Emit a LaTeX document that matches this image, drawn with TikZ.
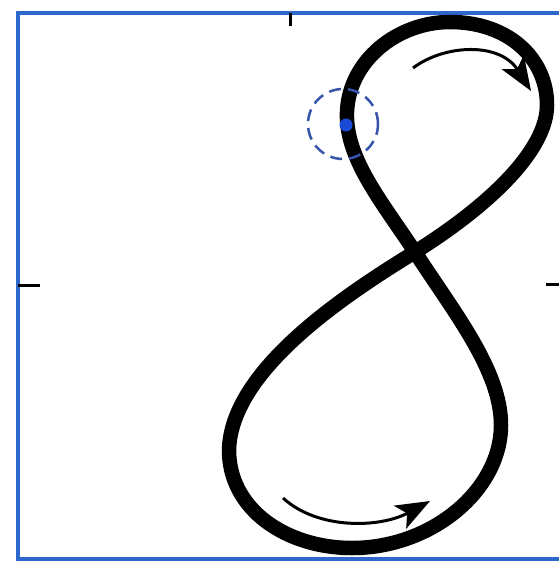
\documentclass[tikz,border=0pt]{standalone}
\usetikzlibrary{arrows.meta}
\definecolor{framebl}{RGB}{45,105,205}
\definecolor{dotbl}{RGB}{25,75,215}
\definecolor{dashbl}{RGB}{55,85,170}
\tikzset{
  framel/.style={draw=framebl,line width=4pt},
  tickl/.style={draw=black,line width=3pt},
  eightl/.style={draw=black,line width=14.5pt,line join=round},
  arrowl/.style={draw=black,line width=3pt,-{Stealth[length=34pt,width=26pt,inset=8pt]}},
}
\begin{document}
\begin{tikzpicture}[x=1pt,y=-1pt]
\useasboundingbox (0,0) rectangle (559,561);
\fill[white] (0,0) rectangle (559,561);
% crossing and loop extremes
\coordinate (X) at (415,252);
\coordinate (TL) at (347,112);
\coordinate (TT) at (450,22);
\coordinate (TR) at (547,105);
\coordinate (BL) at (229,450);
\coordinate (BB) at (352,548);
\coordinate (BR) at (501,425);
% frame
\draw[framel] (559,13) -- (18,13) -- (18,558.5) -- (559,558.5);
% ticks
\draw[tickl] (290,13) -- (290,26);
\draw[tickl] (18,285) -- (40,285);
\draw[tickl] (546,284) -- (559,284);
% figure eight
\draw[eightl] (X) .. controls (382,202) and (345,158) .. (TL)
  .. controls (349,60) and (398,22) .. (TT)
  .. controls (508,22) and (547,58) .. (TR)
  .. controls (547,150) and (490,205) .. (X)
  .. controls (345,295) and (231,370) .. (BL)
  .. controls (229,510) and (287,548) .. (BB)
  .. controls (432,548) and (501,490) .. (BR)
  .. controls (501,370) and (453,311) .. (X) -- cycle;
% arrows
\coordinate (a1s) at (413,68);
\coordinate (a1e) at (531,91);
\coordinate (a2s) at (283,498);
\coordinate (a2e) at (430,501);
\draw[arrowl] (a1s) .. controls (445,44) and (500,42) .. (a1e);
\draw[arrowl] (a2s) .. controls (318,530) and (380,528) .. (a2e);
% marker
\node[circle,draw=dashbl,line width=2.5pt,dash pattern=on 12pt off 7pt,minimum size=70pt,inner sep=0pt] (ring) at (343,124) {};
\node[circle,fill=dotbl,minimum size=13pt,inner sep=0pt] (dot) at (346,125) {};
\end{tikzpicture}
\end{document}
